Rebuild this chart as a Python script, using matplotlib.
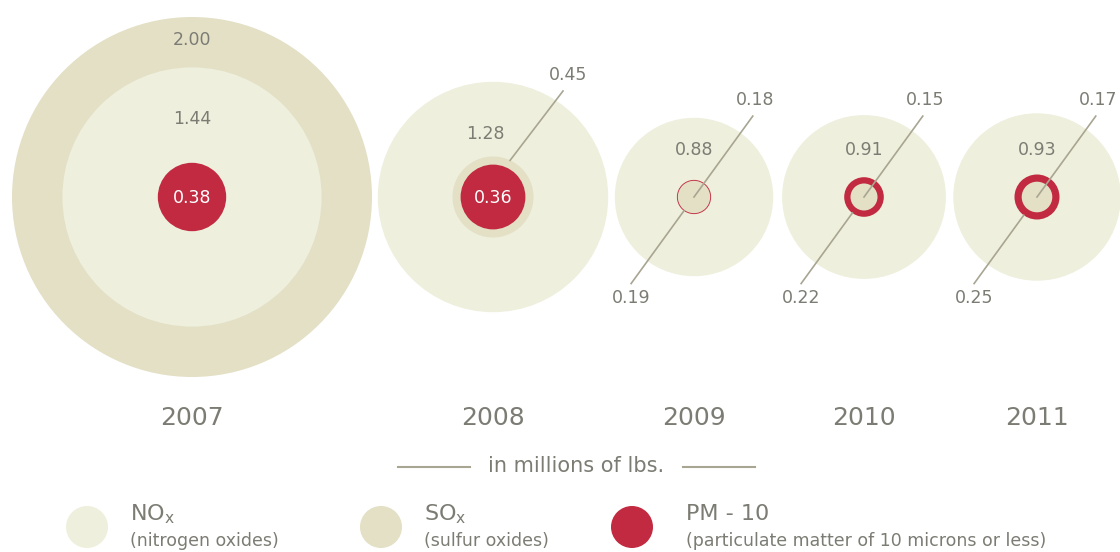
import numpy as np
import matplotlib
matplotlib.use("Agg")
import matplotlib.pyplot as plt
from matplotlib.patches import Circle

# ---- data (millions of lbs) ----
years = ["2007", "2008", "2009", "2010", "2011"]
nox = [1.44, 1.28, 0.88, 0.91, 0.93]
sox = [2.00, 0.45, 0.18, 0.15, 0.17]
pm10 = [0.38, 0.36, 0.19, 0.22, 0.25]

legend_titles = ["NO$_\\mathregular{x}$", "SO$_\\mathregular{x}$", "PM - 10"]
legend_notes = ["(nitrogen oxides)", "(sulfur oxides)",
                "(particulate matter of 10 microns or less)"]
unit_label = "in millions of lbs."

# ---- style ----
C_NOX = "#eeefdc"
C_SOX = "#e3e0c6"
C_PM = "#c12a40"
C_TXT = "#7c7c74"
C_LINE = "#a8a592"
plt.rcParams["font.family"] = ["DejaVu Sans"]
VS = 12.5  # value font size

SCALE = 90.0            # pixels per million lbs (radius)
centers_x = [192, 493, 694, 864, 1037]
cy = 197

fig = plt.figure(figsize=(11.2, 5.52), dpi=100)
ax = fig.add_axes([0, 0, 1, 1])
ax.set_xlim(0, 1120)
ax.set_ylim(552, 0)
ax.set_aspect("equal")
ax.axis("off")

for i, yr in enumerate(years):
    cx = centers_x[i]
    layers = [(nox[i], C_NOX), (sox[i], C_SOX), (pm10[i], C_PM)]
    layers.sort(key=lambda t: -t[0])
    for z, (v, col) in enumerate(layers):
        ax.add_patch(Circle((cx, cy), v * SCALE, facecolor=col, edgecolor="none",
                            zorder=1 + z))
    if sox[i] > nox[i]:
        ax.text(cx, cy - (sox[i] + nox[i]) / 2 * SCALE - 2, f"{sox[i]:.2f}",
                ha="center", va="center", color=C_TXT, fontsize=VS, zorder=10)
        ax.text(cx, cy - 78, f"{nox[i]:.2f}", ha="center", va="center",
                color=C_TXT, fontsize=VS, zorder=10)
        ax.text(cx, cy + 1, f"{pm10[i]:.2f}", ha="center", va="center",
                color="white", fontsize=VS, zorder=10)
    elif sox[i] > pm10[i]:
        ax.text(cx - 8, cy - 63, f"{nox[i]:.2f}", ha="center", va="center",
                color=C_TXT, fontsize=VS, zorder=10)
        ax.text(cx, cy + 1, f"{pm10[i]:.2f}", ha="center", va="center",
                color="white", fontsize=VS, zorder=10)
        ang = np.deg2rad(65)
        r0 = sox[i] * SCALE
        x0, y0 = cx + r0 * np.cos(ang), cy - r0 * np.sin(ang)
        x1, y1 = cx + 70, cy - 106
        ax.plot([x0, x1], [y0, y1], color=C_LINE, lw=1.2, zorder=9)
        ax.text(x1 + 5, y1 - 16, f"{sox[i]:.2f}", ha="center", va="center",
                color=C_TXT, fontsize=VS, zorder=10)
    else:
        ax.text(cx, cy - 47, f"{nox[i]:.2f}", ha="center", va="center",
                color=C_TXT, fontsize=VS, zorder=10)
        ang = np.deg2rad(54)
        ux, uy = np.cos(ang), -np.sin(ang)
        L = 100
        ax.plot([cx, cx + L * ux], [cy, cy + L * uy], color=C_LINE, lw=1.2, zorder=9)
        r0 = pm10[i] * SCALE
        ax.plot([cx - r0 * ux, cx - (L + 7) * ux], [cy - r0 * uy, cy - (L + 7) * uy],
                color=C_LINE, lw=1.2, zorder=9)
        ax.text(cx + L * ux + 2, cy + L * uy - 16, f"{sox[i]:.2f}", ha="center",
                va="center", color=C_TXT, fontsize=VS, zorder=10)
        ax.text(cx - (L + 7) * ux, cy - (L + 7) * uy + 14, f"{pm10[i]:.2f}",
                ha="center", va="center", color=C_TXT, fontsize=VS, zorder=10)
    ax.text(cx, 418, yr, ha="center", va="center", color=C_TXT, fontsize=18, zorder=10)

# unit label with rules
ax.text(576, 466, unit_label, ha="center", va="center", color=C_TXT, fontsize=15)
ax.plot([398, 470], [467, 467], color=C_LINE, lw=1.5)
ax.plot([683, 755], [467, 467], color=C_LINE, lw=1.5)

# legend
leg_x = [87, 381, 632]
leg_off = [43, 43, 54]
leg_cols = [C_NOX, C_SOX, C_PM]
for lx, off, col, t, n in zip(leg_x, leg_off, leg_cols, legend_titles, legend_notes):
    ax.add_patch(Circle((lx, 527), 21, facecolor=col, edgecolor="none"))
    ax.text(lx + off, 514, t, ha="left", va="center", color=C_TXT, fontsize=16)
    ax.text(lx + off, 541, n, ha="left", va="center", color=C_TXT, fontsize=12.5)

fig.savefig("out.png", dpi=100, facecolor="white")
